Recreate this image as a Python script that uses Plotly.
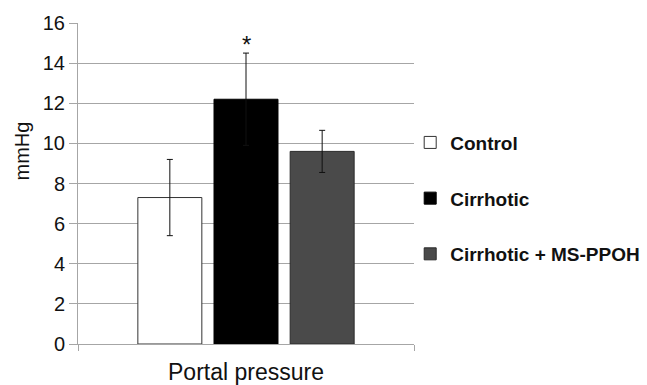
import plotly.graph_objects as go

categories = ["Portal pressure"]
groups = ["Control", "Cirrhotic", "Cirrhotic + MS-PPOH"]
means = [7.3, 12.2, 9.6]
errors = [1.9, 2.3, 1.05]
fills = ["#ffffff", "#000000", "#4a4a4a"]
outlines = ["#333333", "#000000", "#2a2a2a"]
y_ticks = [0, 2, 4, 6, 8, 10, 12, 14, 16]

FONT = "Liberation Sans, Arial"
fig = go.Figure()
for i, g in enumerate(groups):
    fig.add_trace(go.Bar(
        x=categories, y=[means[i]], name=g, legendgroup=g,
        marker=dict(color=fills[i], line=dict(color=outlines[i], width=1)),
        error_y=dict(type="data", array=[errors[i]], color="#111111", thickness=1, width=3),
    ))

fig.add_annotation(x=categories[0], y=14.95, text="*", showarrow=False,
                   font=dict(size=24, color="#111111", family=FONT))
fig.add_annotation(xref="paper", yref="paper", x=-0.205, y=0.6, text="mmHg",
                   textangle=-90, showarrow=False,
                   font=dict(size=20, color="#111111", family=FONT))

fig.update_layout(
    width=647, height=385,
    margin=dict(l=78, r=233, t=23, b=41, autoexpand=False),
    paper_bgcolor="white", plot_bgcolor="white",
    barmode="group", bargap=0.32, bargroupgap=0.16,
    font=dict(family=FONT, color="#111111"),
    showlegend=True,
    legend=dict(xref="container", yref="container", x=0.634, y=0.679,
                xanchor="left", yanchor="top",
                font=dict(size=19, family=FONT, weight="bold", color="#111111"),
                tracegroupgap=28, itemwidth=30, bgcolor="rgba(0,0,0,0)"),
)
fig.update_yaxes(range=[0, 16], tickvals=y_ticks, showgrid=True, gridcolor="#a6a6a6", gridwidth=1,
                 showline=True, linecolor="#a6a6a6", linewidth=1,
                 ticks="outside", ticklen=8, tickcolor="#a6a6a6",
                 tickfont=dict(size=20, color="#111111", family=FONT),
                 zeroline=False)
fig.update_xaxes(showline=True, linecolor="#a6a6a6", linewidth=1,
                 ticks="outside", tickson="boundaries", ticklen=6, tickcolor="#a6a6a6",
                 ticklabelstandoff=7,
                 tickfont=dict(size=23, color="#111111", family=FONT))

fig.write_html("out.html")
